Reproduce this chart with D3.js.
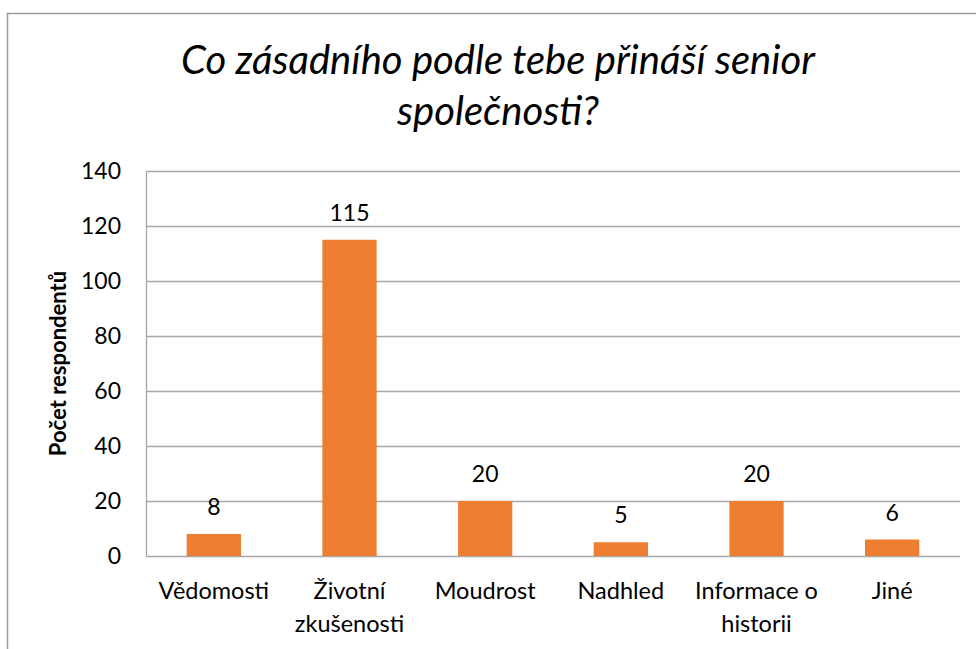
<!DOCTYPE html>
<html>
<head>
<meta charset="utf-8">
<script src="https://cdn.jsdelivr.net/npm/d3@7"></script>
<style>
  html, body { margin: 0; padding: 0; background: #fff; }
  svg { display: block; }
  text { font-family: Lato, "Open Sans", sans-serif; fill: #000; }
</style>
</head>
<body>
<script>
const categories = [["Vědomosti"], ["Životní", "zkušenosti"], ["Moudrost"], ["Nadhled"], ["Informace o", "historii"], ["Jiné"]];
const values = [8, 115, 20, 5, 20, 6];
const yTicks = [0, 20, 40, 60, 80, 100, 120, 140];
const titleLines = ["Co zásadního podle tebe přináší senior", "společnosti?"];
const yAxisTitle = "Počet respondentů";

const W = 976, H = 649;
const margin = { left: 146, right: 16, top: 171, bottom: 93 };

const svg = d3.select("body").append("svg").attr("width", W).attr("height", H);

// outer chart border
svg.append("rect").attr("x", 7.5).attr("y", 13.5).attr("width", W).attr("height", H)
  .attr("fill", "none").attr("stroke", "#9a9a9a").attr("stroke-width", 1.5);

const keys = categories.map((c, i) => i);
const x = d3.scaleBand().domain(keys).range([margin.left, W - margin.right]).paddingInner(0.6).paddingOuter(0.3);
const y = d3.scaleLinear().domain([0, 140]).range([H - margin.bottom, margin.top]);

// gridlines
svg.append("g").selectAll("line").data(yTicks).join("line")
  .attr("x1", margin.left).attr("x2", W - margin.right)
  .attr("y1", d => Math.round(y(d)) + 0.5).attr("y2", d => Math.round(y(d)) + 0.5)
  .attr("stroke", "#a6a6a6").attr("stroke-width", 1.3);

// y axis line
svg.append("line").attr("x1", margin.left + 0.5).attr("x2", margin.left + 0.5)
  .attr("y1", y(140)).attr("y2", y(0)).attr("stroke", "#a6a6a6").attr("stroke-width", 1.3);

// y axis ticks via d3 axis
const yAxis = d3.axisLeft(y).tickValues(yTicks).tickSize(0).tickPadding(25);
const yg = svg.append("g").attr("transform", `translate(${margin.left},0)`).call(yAxis);
yg.select(".domain").remove();
yg.selectAll("text").style("font-size", "23px").style("font-family", "Lato, sans-serif").attr("fill", "#000");

// bars
svg.append("g").selectAll("rect").data(values).join("rect")
  .attr("x", (d, i) => x(i)).attr("width", x.bandwidth())
  .attr("y", d => y(d)).attr("height", d => y(0) - y(d))
  .attr("fill", "#ED7D31");

// data labels
svg.append("g").selectAll("text").data(values).join("text")
  .attr("x", (d, i) => x(i) + x.bandwidth() / 2)
  .attr("y", d => y(d) - 19)
  .attr("text-anchor", "middle")
  .style("font-size", "23px")
  .text(d => d);

// x axis category labels
const xg = svg.append("g");
categories.forEach((lines, i) => {
  const t = xg.append("text")
    .attr("x", x(i) + x.bandwidth() / 2)
    .attr("y", 599)
    .attr("text-anchor", "middle")
    .style("font-size", "23.5px");
  lines.forEach((l, j) => {
    t.append("tspan").attr("x", x(i) + x.bandwidth() / 2).attr("dy", j === 0 ? 0 : 33).text(l);
  });
});

// y axis title
svg.append("text")
  .attr("transform", `translate(66, ${(y(0) + y(140)) / 2}) rotate(-90)`)
  .attr("text-anchor", "middle")
  .style("font-size", "22px").style("font-weight", "bold")
  .text(yAxisTitle);

// title
const title = svg.append("text").attr("text-anchor", "middle")
  .style("font-size", "40px").style("font-style", "italic");
titleLines.forEach((l, j) => {
  title.append("tspan").attr("x", 498).attr("y", j === 0 ? 74 : 125).text(l);
});
</script>
</body>
</html>
